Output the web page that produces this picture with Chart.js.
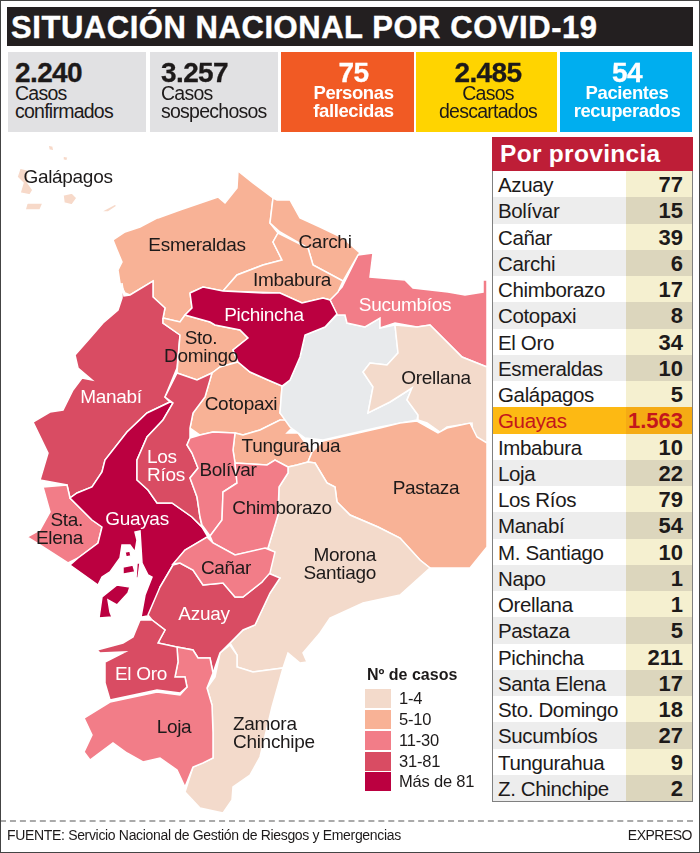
<!DOCTYPE html>
<html lang="es">
<head>
<meta charset="utf-8">
<title>Situación nacional por COVID-19</title>
<script src="https://cdn.jsdelivr.net/npm/chart.js@4"></script>
<style>
    html, body { margin: 0; padding: 0; background: #fff; }
    body { width: 700px; height: 853px; position: relative; overflow: hidden; font-family: "Liberation Sans", Arial, sans-serif; color: #1d1a1a; }
    #frame { position: absolute; left: 0; top: 0; width: 698px; height: 851px; border: 1px solid #444; pointer-events: none; }
    #mapa { position: absolute; left: 0; top: 0; }
    #titulo { position: absolute; left: 7px; top: 7px; width: 682px; height: 39px; padding-left: 4px; background: #231f20; color: #fff; font-weight: bold; font-size: 31px; line-height: 41px; white-space: nowrap; letter-spacing: 0.55px; -webkit-text-stroke: 0.4px #fff; }
    .kpi { position: absolute; top: 52px; height: 80px; box-sizing: border-box; font-size: 19.5px; line-height: 18px; letter-spacing: -0.75px; }
    .kpi b { display: block; font-size: 28px; line-height: 30px; margin-top: 6px; margin-bottom: -4px; letter-spacing: -0.6px; -webkit-text-stroke: 0.3px currentColor; }
    .kpi.left { text-align: left; }
    .kpi.center { text-align: center; }
    .kpi.blanco { color: #fff; font-weight: bold; font-size: 18.5px; letter-spacing: -0.4px; }
    .etq { position: absolute; font-size: 19px; line-height: 18px; letter-spacing: -0.3px; white-space: pre; }
    .etq.w { color: #fff; }
    #tabla { position: absolute; left: 492px; top: 137px; width: 201px; box-sizing: border-box; border: 1px solid #808080; border-top: none; }
    #tablaHead { background: #be1e37; color: #fff; font-weight: bold; font-size: 24.5px; height: 34px; line-height: 33px; padding-left: 8px; margin: 0 -1px; letter-spacing: 0.3px; }
    .fila { display: flex; height: 26.25px; line-height: 28px; font-size: 20.5px; letter-spacing: -0.35px; }
    .fila .n { width: 133px; padding-left: 5px; box-sizing: border-box; white-space: nowrap; }
    .fila .v { flex: 1; padding-right: 9px; text-align: right; font-weight: bold; font-size: 22px; letter-spacing: 0; }
    .leg { position: absolute; left: 365px; width: 26px; }
    .legT { position: absolute; left: 399px; font-size: 16.5px; line-height: 20px; letter-spacing: -0.2px; }
    #legTitulo { position: absolute; left: 367px; top: 666px; font-weight: bold; font-size: 16px; line-height: 18px; }
    #linea { position: absolute; left: 0; width: 693px; top: 820px; border-top: 2px dashed #aaa; }
    #fuente { position: absolute; left: 7px; top: 826px; font-size: 14px; line-height: 18px; letter-spacing: -0.33px; }
    #expreso { position: absolute; right: 8px; top: 826px; font-size: 14px; line-height: 18px; letter-spacing: -0.5px; }
</style>
</head>
<body>
<canvas id="mapa" width="700" height="853"></canvas>
<div id="titulo">SITUACIÓN NACIONAL POR COVID-19</div>
<div id="kpis"></div>
<div id="etiquetas"></div>
<div id="legTitulo">Nº de casos</div>
<div id="leyenda"></div>
<div id="tabla"><div id="tablaHead">Por provincia</div></div>
<div id="linea"></div>
<div id="fuente">FUENTE: Servicio Nacional de Gestión de Riesgos y Emergencias</div>
<div id="expreso">EXPRESO</div>
<div id="frame"></div>
<script>
// table data
const provincias = ['Azuay', 'Bolívar', 'Cañar', 'Carchi', 'Chimborazo', 'Cotopaxi', 'El Oro', 'Esmeraldas', 'Galápagos', 'Guayas', 'Imbabura', 'Loja', 'Los Ríos', 'Manabí', 'M. Santiago', 'Napo', 'Orellana', 'Pastaza', 'Pichincha', 'Santa Elena', 'Sto. Domingo', 'Sucumbíos', 'Tungurahua', 'Z. Chinchipe'];
const casos = ['77', '15', '39', '6', '17', '8', '34', '10', '5', '1.563', '10', '22', '79', '54', '10', '1', '1', '5', '211', '17', '18', '27', '9', '2'];

// header boxes
const kpiValores = ['2.240', '3.257', '75', '2.485', '54'];
const kpiTextos = ['Casos<br>confirmados', 'Casos<br>sospechosos', 'Personas<br>fallecidas', 'Casos<br>descartados', 'Pacientes<br>recuperados'];

// legend
const rangos = ['1-4', '5-10', '11-30', '31-81', 'Más de 81'];
const colores = ['#f3dacb', '#f8b296', '#f27d88', '#d94c63', '#bb0040'];
const colorNapo = '#e8eaec';
const colorIslas = '#f7d9c9';

// province outlines, in map units
const esmeraldas = [[113,240],[125,232],[140,227],[157,218],[158,218],[180,210],[218,197],[225,203],[237,188],[238,171],[253,183],[273,198],[270,223],[278,233],[273,242],[282,260],[263,265],[237,275],[223,291],[203,287],[190,293],[192,308],[185,315],[180,322],[163,318],[165,308],[153,297],[153,281],[130,295],[125,293],[120,283],[118,270],[122,262],[117,250]];
const manabi = [[122,283],[124,296],[130,295],[153,281],[153,297],[165,308],[163,318],[163,323],[180,335],[177,368],[165,397],[170,402],[147,413],[127,432],[105,460],[102,472],[92,487],[77,493],[70,498],[67,485],[40,480],[48,453],[33,422],[50,412],[63,410],[73,390],[82,378],[92,380],[78,368],[75,355],[90,338],[103,323],[118,310],[122,298]];
const stoDomingo = [[163,318],[180,322],[185,315],[210,322],[215,325],[240,330],[248,338],[233,350],[238,362],[220,367],[212,373],[197,380],[177,373],[180,335],[163,323]];
const pichincha = [[190,293],[203,287],[223,291],[263,293],[280,293],[302,303],[323,298],[330,300],[337,314],[325,327],[305,335],[300,357],[290,380],[282,386],[268,380],[250,372],[238,362],[233,350],[248,338],[240,330],[215,325],[210,322],[185,315],[192,308]];
const cotopaxi = [[212,373],[220,367],[238,362],[250,372],[268,380],[282,386],[280,413],[288,420],[292,428],[280,420],[260,430],[243,435],[235,433],[213,432],[200,435],[190,428],[193,413],[205,397]];
const tungurahua = [[235,433],[243,435],[260,430],[280,420],[288,420],[292,428],[287,433],[298,433],[312,452],[308,462],[297,465],[288,467],[275,460],[267,465],[235,463],[233,450]];
const napo = [[337,315],[325,327],[305,335],[300,357],[290,380],[282,387],[280,413],[290,427],[305,438],[323,440],[380,427],[417,420],[418,415],[407,400],[412,388],[390,402],[368,413],[373,387],[363,372],[370,363],[387,365],[398,353],[395,325],[380,328],[380,318],[365,327],[347,323],[345,315]];
const sucumbios = [[330,300],[342,287],[358,255],[373,253],[370,277],[405,280],[413,288],[448,292],[465,295],[483,292],[483,280],[487,280],[487,367],[462,357],[430,325],[417,327],[395,323],[380,328],[380,318],[365,327],[347,323],[345,315],[337,315]];
const orellana = [[395,325],[417,327],[430,325],[462,357],[487,367],[487,443],[473,438],[472,423],[447,427],[440,432],[427,423],[418,420],[418,415],[407,400],[412,388],[390,402],[368,413],[373,387],[363,372],[370,363],[387,365],[398,353]];
const pastaza = [[312,452],[323,441],[380,428],[400,423],[417,421],[438,433],[447,428],[470,423],[477,437],[487,443],[487,547],[470,568],[430,568],[420,560],[400,538],[378,527],[350,515],[337,502],[335,487],[327,483],[315,463],[308,462]];
const morona = [[288,467],[297,465],[308,462],[315,463],[327,483],[335,487],[337,502],[350,515],[378,527],[400,538],[420,560],[430,568],[400,595],[363,603],[330,618],[320,633],[303,653],[307,662],[300,663],[288,653],[283,668],[253,672],[237,667],[237,655],[230,643],[243,630],[255,625],[270,593],[280,578],[268,573],[273,552],[268,548],[275,525],[278,515],[279,487],[288,473]];
const zamora = [[230,645],[237,655],[237,667],[253,672],[283,668],[272,707],[260,757],[250,775],[233,787],[232,800],[223,813],[200,808],[185,792],[193,767],[213,758],[213,733],[212,705],[207,688],[215,677],[220,653]];
const azuay = [[152,620],[165,630],[158,643],[177,647],[193,650],[198,658],[210,658],[213,673],[220,653],[230,643],[243,630],[255,625],[270,593],[280,578],[268,573],[262,582],[243,597],[235,597],[223,583],[203,585],[193,570],[180,563],[173,565],[160,587],[148,615]];
const canar = [[207,537],[213,543],[235,555],[265,548],[275,552],[270,573],[262,582],[243,597],[235,597],[223,583],[203,585],[193,570],[180,563],[173,564],[185,550]];
const guayas = [[170,402],[147,413],[127,432],[105,460],[102,472],[92,487],[77,493],[70,498],[92,520],[102,527],[98,543],[78,558],[70,565],[98,585],[120,600],[142,617],[153,615],[160,587],[173,565],[185,550],[208,537],[202,527],[192,517],[172,503],[157,503],[148,490],[137,480],[137,460],[147,437],[163,420],[173,403]];
const golfo = [[98,585],[102,577],[110,572],[120,558],[122,545],[130,545],[135,552],[137,540],[135,532],[140,531],[142,563],[148,575],[152,577],[145,595],[141,617],[141,640],[95,640],[85,600]];
const puna = [[102,597],[117,585],[130,587],[128,593],[117,605],[108,600],[110,612],[112,617],[99,618]];
const islote1 = [[123,567],[133,565],[135,572],[124,574]];
const islote2 = [[137,563],[140,563],[138,578],[136,578]];
const islote3 = [[125,552],[130,551],[131,556],[126,557]];
const santaElena = [[43,487],[67,485],[70,498],[92,520],[102,527],[98,543],[78,558],[68,563],[40,545],[27,537],[40,530],[50,512]];
const losRios = [[177,373],[197,380],[212,373],[205,397],[193,413],[190,428],[190,438],[187,445],[192,453],[198,468],[190,478],[197,497],[200,517],[202,527],[192,517],[172,503],[157,503],[148,490],[137,480],[137,460],[147,437],[163,420],[173,403],[165,397]];
const bolivar = [[190,438],[200,435],[213,432],[235,433],[233,450],[235,463],[237,483],[223,492],[222,520],[210,536],[202,525],[200,517],[197,497],[190,478],[198,468],[192,453],[187,445]];
const chimborazo = [[235,463],[267,465],[275,460],[288,467],[288,473],[279,487],[278,515],[275,525],[268,548],[235,555],[213,543],[210,536],[222,520],[223,492],[237,483]];
const elOro = [[140,620],[152,620],[165,630],[158,643],[177,647],[178,662],[175,677],[185,677],[187,687],[180,693],[157,690],[110,700],[105,683],[105,662],[125,652],[100,653],[97,650],[123,643],[133,637]];
const loja = [[177,647],[193,650],[198,658],[210,658],[213,673],[207,688],[212,705],[213,733],[213,758],[203,763],[193,767],[185,787],[177,770],[160,758],[143,762],[127,753],[113,743],[90,760],[84,752],[92,735],[84,718],[110,702],[157,692],[180,695],[187,687],[185,677],[175,677],[178,662]];
const carchi = [[273,198],[277,200],[290,200],[300,218],[320,227],[343,238],[360,253],[358,255],[343,281],[313,265],[308,248],[280,232],[270,223]];
const imbabura = [[278,233],[308,248],[313,265],[343,281],[338,292],[330,300],[323,298],[302,303],[280,293],[223,291],[237,275],[263,265],[282,260],[273,242]];
const galapagos1 = [[20,168],[28,170],[28,183],[33,190],[30,195],[20,193],[23,183],[17,177]];
const galapagos2 = [[63,195],[72,193],[77,198],[72,205],[64,203]];
const galapagos3 = [[27,203],[43,203],[40,210],[25,210]];
const galapagos4 = [[100,212],[115,204],[117,206],[108,212]];
const galapagos5 = [[48,145],[53,146],[54,151],[49,150]];
const galapagos6 = [[63,156],[68,157],[67,161],[63,160]];

// shape, colour: later ones are painted on top
const capas = [
    [esmeraldas, colores[1]], [manabi, colores[3]], [stoDomingo, colores[1]], [cotopaxi, colores[1]],
    [tungurahua, colores[1]], [napo, colorNapo], [sucumbios, colores[2]], [orellana, colores[0]],
    [pastaza, colores[1]], [morona, colores[0]], [zamora, colores[0]], [santaElena, colores[2]],
    [guayas, colores[4]], [golfo, '#ffffff'], [puna, colores[4]], [islote1, colores[4]], [islote2, colores[4]], [islote3, colores[4]],
    [losRios, colores[3]], [bolivar, colores[2]], [chimborazo, colores[2]], [azuay, colores[3]], [canar, colores[2]],
    [loja, colores[2]], [elOro, colores[3]], [carchi, colores[1]], [imbabura, colores[1]], [pichincha, colores[4]],
    [galapagos1, colorIslas], [galapagos2, colorIslas], [galapagos3, colorIslas], [galapagos4, colorIslas], [galapagos5, colorIslas], [galapagos6, colorIslas]
];

// text on the map: text, x, y, white?, anchor
const etiquetas = [
    ['Galápagos', 68, 177, 0, 'c'], ['Esmeraldas', 197, 245, 0, 'c'], ['Carchi', 325, 242, 0, 'c'], ['Imbabura', 292, 280, 0, 'c'],
    ['Sucumbíos', 405, 305, 1, 'c'], ['Pichincha', 264, 315, 1, 'c'], ['Sto.\nDomingo', 201, 347, 0, 'c'], ['Manabí', 111, 397, 1, 'c'],
    ['Orellana', 436, 378, 0, 'c'], ['Cotopaxi', 241, 404, 0, 'c'], ['Los\nRíos', 147, 466, 1, 'l'], ['Tungurahua', 291, 446, 0, 'c'],
    ['Bolívar', 228, 470, 0, 'c'], ['Pastaza', 426, 488, 0, 'c'], ['Chimborazo', 282, 508, 0, 'c'], ['Guayas', 137, 519, 1, 'c'],
    ['Sta.\nElena', 83, 529, 0, 'r'], ['Morona\nSantiago', 376, 564, 0, 'r'], ['Cañar', 226, 568, 0, 'c'], ['Azuay', 204, 614, 1, 'c'],
    ['El Oro', 141, 674, 1, 'c'], ['Loja', 174, 727, 0, 'c'], ['Zamora\nChinchipe', 233, 733, 0, 'l']
];
const anclaje = {
    c: ['center', 'translate(-50%, -50%)'],
    l: ['left', 'translate(0, -50%)'],
    r: ['right', 'translate(-100%, -50%)']
};

// header boxes
const kpiCajas = [
    { left: 8, width: 138, bg: '#e1e1e3', cls: 'left', pad: 7 },
    { left: 150, width: 128, bg: '#e1e1e3', cls: 'left', pad: 11 },
    { left: 281, width: 133, bg: '#f15a24', cls: 'center blanco', pad: 12 },
    { left: 416, width: 141, bg: '#ffd400', cls: 'center', pad: 3 },
    { left: 560, width: 132, bg: '#00aeef', cls: 'center blanco', pad: 2 }
];
const kpis = document.getElementById('kpis');
kpiCajas.forEach((c, i) => {
    const d = document.createElement('div');
    d.className = 'kpi ' + c.cls;
    d.style.cssText = `left:${c.left}px;width:${c.width}px;background:${c.bg};padding-left:${c.pad}px`;
    d.innerHTML = `<b>${kpiValores[i]}</b>${kpiTextos[i]}`;
    kpis.appendChild(d);
});

// table rows
const tabla = document.getElementById('tabla');
provincias.forEach((p, i) => {
    const guayasFila = p === 'Guayas';
    const par = i % 2 === 1;
    const f = document.createElement('div');
    f.className = 'fila';
    f.style.background = guayasFila ? '#fdb913' : (par ? '#ededed' : '#fff');
    if (guayasFila) f.style.color = '#c4161c';
    const vBg = guayasFila ? '#f5ab14' : (par ? '#dcd6bd' : '#f5f0d0');
    f.innerHTML = `<div class="n">${p}</div><div class="v" style="background:${vBg}">${casos[i]}</div>`;
    tabla.appendChild(f);
});

// legend
const leyenda = document.getElementById('leyenda');
const legY = [689, 710, 731, 752, 772];
rangos.forEach((r, i) => {
    leyenda.insertAdjacentHTML('beforeend',
        `<div class="leg" style="top:${legY[i]}px;height:19px;background:${colores[i]}"></div>` +
        `<div class="legT" style="top:${legY[i] - 1}px">${r}</div>`);
});

// map labels
const capaEtq = document.getElementById('etiquetas');
etiquetas.forEach(e => {
    const d = document.createElement('div');
    d.className = 'etq' + (e[3] ? ' w' : '');
    d.style.left = e[1] + 'px';
    d.style.top = e[2] + 'px';
    d.style.textAlign = anclaje[e[4]][0];
    d.style.transform = anclaje[e[4]][1];
    d.textContent = e[0];
    capaEtq.appendChild(d);
});

// map: one filled scatter line per outline
new Chart(document.getElementById('mapa'), {
    type: 'scatter',
    data: {
        datasets: capas.map((c, i) => ({
            data: c[0].concat([c[0][0]]).map(p => ({ x: p[0], y: p[1] })),
            showLine: true,
            fill: 'shape',
            tension: 0,
            backgroundColor: c[1],
            borderColor: '#ffffff',
            borderWidth: 1.5,
            pointRadius: 0,
            order: -i
        }))
    },
    options: {
        responsive: false,
        animation: false,
        devicePixelRatio: 1,
        layout: { padding: 0 },
        plugins: { legend: { display: false }, tooltip: { enabled: false } },
        scales: {
            x: { type: 'linear', display: false, min: 0, max: 700 },
            y: { type: 'linear', display: false, min: 0, max: 853, reverse: true }
        }
    }
});
</script>
</body>
</html>
